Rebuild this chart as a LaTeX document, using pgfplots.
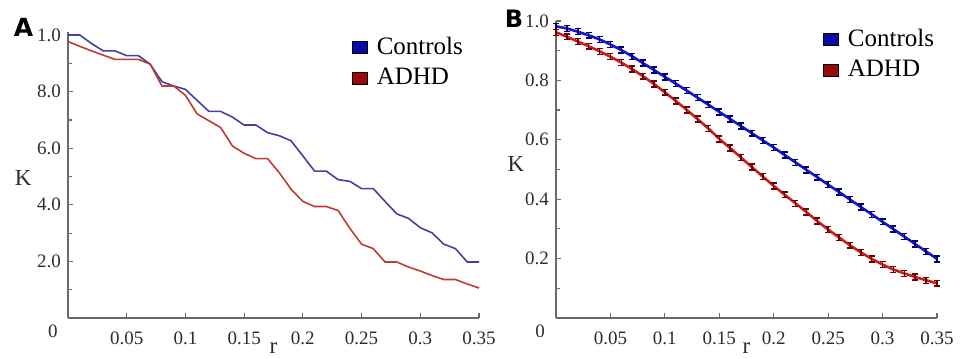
\documentclass[border=0pt]{standalone}
\usepackage{pgfplots}
\pgfplotsset{compat=1.18}
\usepackage{fontspec}
\setmainfont{Liberation Serif}
\newfontfamily\panelfont{DejaVu Sans}
\definecolor{axisgray}{RGB}{105,105,105}
\definecolor{tickc}{RGB}{45,45,45}
\definecolor{blueA}{RGB}{65,65,165}
\definecolor{redA}{RGB}{190,60,50}
\definecolor{blueB}{RGB}{20,20,210}
\definecolor{redB}{RGB}{200,30,30}
\definecolor{blueBd}{RGB}{0,0,110}
\definecolor{redBd}{RGB}{110,0,0}
\definecolor{legblue}{RGB}{10,10,165}
\definecolor{legred}{RGB}{155,10,10}
\begin{document}
\begin{tikzpicture}
\path[use as bounding box] (0pt,0pt) rectangle (480pt,179.5pt);
\pgfplotsset{
  common/.style={
    scale only axis,
    axis lines=left,
    axis line style={-, draw=axisgray, line width=0.8pt},
    tick align=inside,
    major tick length=2.5pt, minor tick length=2pt,
    tick style={draw=axisgray, line width=0.6pt},
    ticklabel style={font=\fontsize{9.5}{11}\selectfont, text=tickc},
    xticklabel style={yshift=-3.5pt},
    /pgf/number format/assume math mode=true,
    xmin=0, xmax=0.35,
    xtick={0.05,0.1,0.15,0.2,0.25,0.3,0.35},
    xticklabels={0.05,0.1,0.15,0.2,0.25,0.3,0.35},
    xlabel={r}, ylabel={K},
    label style={font=\fontsize{11.5}{13}\selectfont, text=tickc},
    legend image code/.code={\fill[##1] (0pt,-3pt) rectangle (7.5pt,3pt);},
    legend style={draw=none, fill=none, font=\fontsize{12.5}{14}\selectfont,
      inner sep=0pt, row sep=2.5pt, nodes={inner sep=1.5pt}},
    legend cell align=left,
    clip=false,
  }
}
% ---------------- Panel A ----------------
\begin{axis}[common,
  at={(34pt,20.5pt)}, anchor=south west,
  width=205.5pt, height=142.9pt,
  ymin=0, ymax=10.1,
  ytick={2,4,6,8,10}, yticklabels={2.0,4.0,6.0,8.0,1.0},
  minor ytick={1,3,5,7,9},
  xlabel style={at={(axis description cs:0.5,-0.123)}, anchor=base},
  ylabel style={rotate=-90, at={(axis description cs:-0.109,0.49)}, anchor=center},
  legend style={at={(axis description cs:0.69,0.995)}, anchor=north west},
]
\addplot[color=blueA, line width=0.8pt, forget plot] coordinates {
(0.00,10.0) (0.01,10.0) (0.02,9.70) (0.03,9.44) (0.04,9.44) (0.05,9.27)
(0.06,9.27) (0.07,8.97) (0.08,8.35) (0.09,8.20) (0.10,8.08) (0.11,7.69)
(0.12,7.30) (0.13,7.30) (0.14,7.10) (0.15,6.82) (0.16,6.82) (0.17,6.55)
(0.18,6.44) (0.19,6.26) (0.20,5.73) (0.21,5.19) (0.22,5.19) (0.23,4.89)
(0.24,4.83) (0.25,4.57) (0.26,4.57) (0.27,4.12) (0.28,3.68) (0.29,3.52)
(0.30,3.19) (0.31,3.01) (0.32,2.61) (0.33,2.45) (0.34,1.98) (0.35,1.98)};
\addplot[color=redA, line width=0.8pt, forget plot] coordinates {
(0.00,9.77) (0.01,9.60) (0.02,9.44) (0.03,9.29) (0.04,9.14) (0.05,9.14)
(0.06,9.14) (0.07,8.97) (0.08,8.20) (0.09,8.20) (0.10,7.87) (0.11,7.21)
(0.12,6.97) (0.13,6.73) (0.14,6.08) (0.15,5.82) (0.16,5.63) (0.17,5.63)
(0.18,5.13) (0.19,4.55) (0.20,4.12) (0.21,3.94) (0.22,3.94) (0.23,3.80)
(0.24,3.17) (0.25,2.61) (0.26,2.45) (0.27,1.98) (0.28,1.98) (0.29,1.80)
(0.30,1.66) (0.31,1.50) (0.32,1.36) (0.33,1.36) (0.34,1.20) (0.35,1.06)};
\addlegendimage{fill=legblue}
\addlegendentry{\hspace{3pt}Controls}
\addlegendimage{fill=legred}
\addlegendentry{\hspace{3pt}ADHD}
\node[font=\fontsize{9.5}{11}\selectfont, text=tickc] at ([xshift=-7.5pt,yshift=-6.5pt]axis cs:0,0) {0};
\end{axis}
\node[font=\panelfont\bfseries\fontsize{12.5}{15}\selectfont] at (11.75pt,166pt) {A};
% ---------------- Panel B ----------------
\begin{axis}[common,
  at={(278pt,20.5pt)}, anchor=south west,
  width=190.5pt, height=148.5pt,
  ymin=0, ymax=1.0,
  ytick={0.2,0.4,0.6,0.8,1.0}, yticklabels={0.2,0.4,0.6,0.8,1.0},
  minor ytick={0.1,0.3,0.5,0.7,0.9},
  xlabel style={at={(axis description cs:0.5,-0.118)}, anchor=base},
  ylabel style={rotate=-90, at={(axis description cs:-0.105,0.517)}, anchor=center},
  legend style={at={(axis description cs:0.70,0.985)}, anchor=north west},
]
\addplot[color=blueB, line width=1.3pt, forget plot,
  error bars/.cd, y dir=both, y fixed=0.01,
  error bar style={line width=0.75pt, draw=blueBd},
  error mark options={rotate=90, mark size=1.5pt, draw=blueBd, line width=0.75pt}]
coordinates {
(0.00,0.982) (0.01,0.975) (0.02,0.964) (0.03,0.952) (0.04,0.938) (0.05,0.921)
(0.06,0.902) (0.07,0.881) (0.08,0.858) (0.09,0.835) (0.10,0.812) (0.11,0.789)
(0.12,0.766) (0.13,0.742) (0.14,0.718) (0.15,0.694) (0.16,0.670) (0.17,0.646)
(0.18,0.622) (0.19,0.598) (0.20,0.574) (0.21,0.549) (0.22,0.524) (0.23,0.499)
(0.24,0.474) (0.25,0.449) (0.26,0.424) (0.27,0.399) (0.28,0.374) (0.29,0.349)
(0.30,0.324) (0.31,0.299) (0.32,0.274) (0.33,0.249) (0.34,0.224) (0.35,0.199)};
\addplot[color=redB, line width=1.3pt, forget plot,
  error bars/.cd, y dir=both, y fixed=0.01,
  error bar style={line width=0.75pt, draw=redBd},
  error mark options={rotate=90, mark size=1.5pt, draw=redBd, line width=0.75pt}]
coordinates {
(0.00,0.962) (0.01,0.947) (0.02,0.931) (0.03,0.915) (0.04,0.898) (0.05,0.880)
(0.06,0.860) (0.07,0.838) (0.08,0.814) (0.09,0.788) (0.10,0.760) (0.11,0.731)
(0.12,0.701) (0.13,0.670) (0.14,0.638) (0.15,0.603) (0.16,0.572) (0.17,0.540)
(0.18,0.508) (0.19,0.476) (0.20,0.445) (0.21,0.415) (0.22,0.386) (0.23,0.357)
(0.24,0.326) (0.25,0.298) (0.26,0.271) (0.27,0.245) (0.28,0.221) (0.29,0.199)
(0.30,0.180) (0.31,0.163) (0.32,0.150) (0.33,0.138) (0.34,0.127) (0.35,0.117)};
\addlegendimage{fill=legblue}
\addlegendentry{\hspace{3pt}Controls}
\addlegendimage{fill=legred}
\addlegendentry{\hspace{3pt}ADHD}
\node[font=\fontsize{9.5}{11}\selectfont, text=tickc] at ([xshift=-8pt,yshift=-6.5pt]axis cs:0,0) {0};
\end{axis}
\node[font=\panelfont\bfseries\fontsize{12}{15}\selectfont] at (257pt,170.25pt) {B};
\end{tikzpicture}
\end{document}
